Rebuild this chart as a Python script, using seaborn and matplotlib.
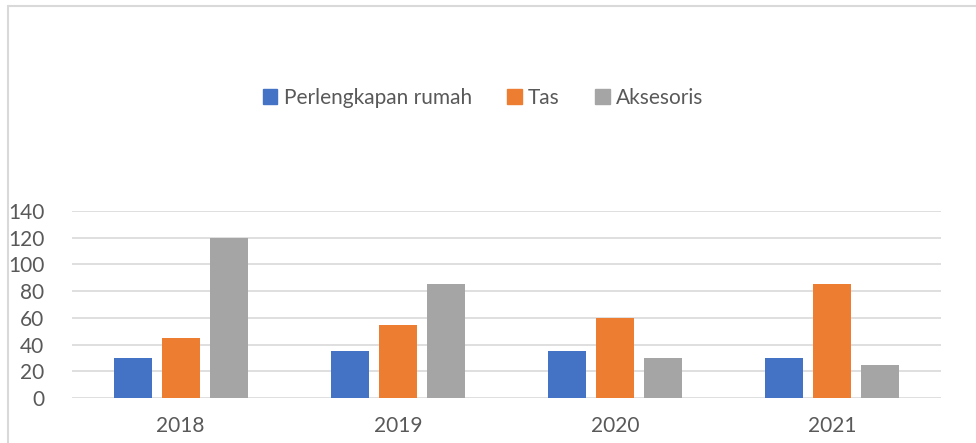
import seaborn as sns
import pandas as pd
from matplotlib import pyplot as plt
from matplotlib.lines import Line2D

years = ['2018', '2019', '2020', '2021']
perlengkapan = [30, 35, 35, 30]
tas = [45, 55, 60, 85]
aksesoris = [120, 85, 30, 25]
series_names = ['Perlengkapan rumah', 'Tas', 'Aksesoris']
colors = ['#4472C4', '#ED7D31', '#A5A5A5']

df = pd.DataFrame({
    'Tahun': years * 3,
    'Nilai': perlengkapan + tas + aksesoris,
    'Seri': [s for s in series_names for _ in years],
})

sns.set_style('white')
plt.rcParams['font.family'] = ['Lato', 'DejaVu Sans']
text_color = '#595959'

fig = plt.figure(figsize=(9.76, 4.43), dpi=100)
ax = fig.add_axes([72 / 976, 1 - 398 / 443, (941 - 72) / 976, (398 - 211) / 443])

sns.barplot(data=df, x='Tahun', y='Nilai', hue='Seri', palette=colors,
            width=0.664, gap=0.21, ax=ax, legend=False, saturation=1,
            linewidth=0)

ax.set_ylim(0, 140)
ax.set_yticks(range(0, 141, 20))
ax.set_xlabel('')
ax.set_ylabel('')
ax.grid(axis='y', color='#D9D9D9', linewidth=1.2)
ax.set_axisbelow(True)
sns.despine(ax=ax, left=True, bottom=True, top=True, right=True)
ax.tick_params(axis='both', length=0, labelsize=15, labelcolor=text_color)
ax.tick_params(axis='y', pad=20)
ax.tick_params(axis='x', pad=13)

# legend on top, Excel style
handles = [plt.Rectangle((0, 0), 1, 1, color=c) for c in colors]
fig.legend(handles, series_names, loc='center', bbox_to_anchor=(483 / 976, 1 - 98 / 443),
           ncol=3, frameon=False, fontsize=15, labelcolor=text_color,
           handlelength=0.7, handleheight=0.7, handletextpad=0.3, columnspacing=1.7)

# chart border (top and left visible)
fig.add_artist(Line2D([8 / 976, 1], [1 - 6 / 443, 1 - 6 / 443], transform=fig.transFigure,
                      color='#D9D9D9', linewidth=1.5))
fig.add_artist(Line2D([8 / 976, 8 / 976], [0, 1 - 6 / 443], transform=fig.transFigure,
                      color='#D9D9D9', linewidth=1.5))

fig.savefig('out.png', dpi=100)
